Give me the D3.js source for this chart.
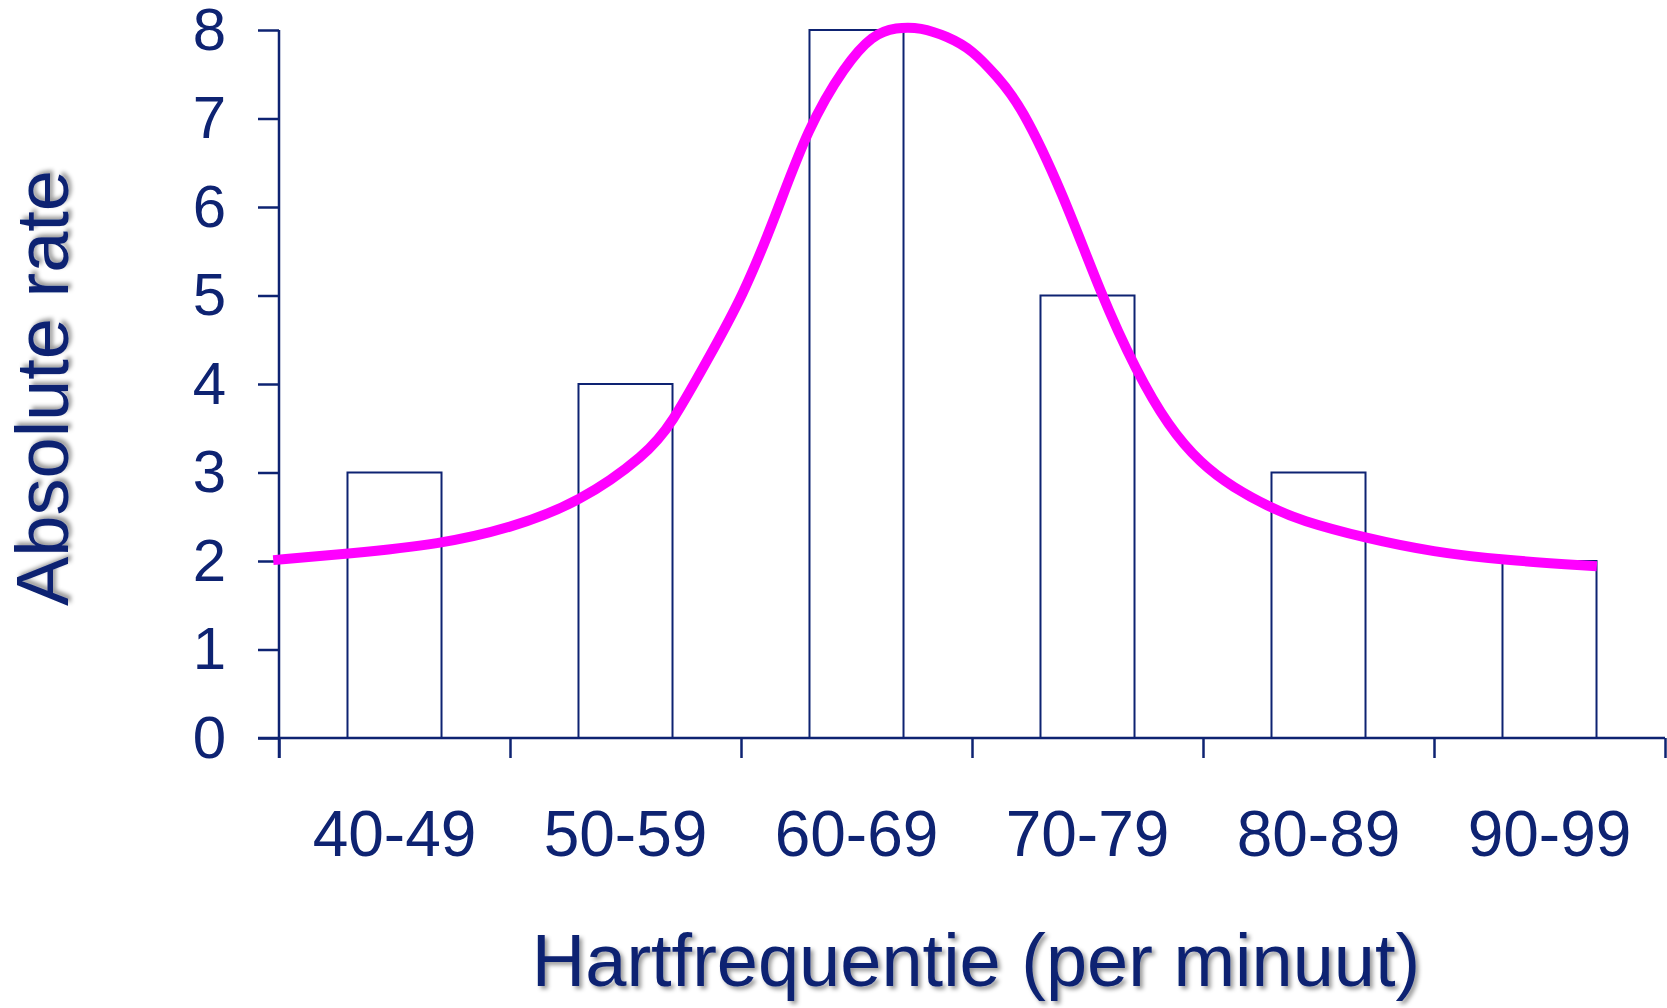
<!DOCTYPE html>
<html>
<head>
<meta charset="utf-8">
<script src="https://d3js.org/d3.v7.min.js"></script>
<style>
  body { margin: 0; background: white; }
  svg { display: block; }
</style>
</head>
<body>
<div id="chart"></div>
<script>

// categories (bpm classes) and counts per class
var categories = ["40-49", "50-59", "60-69", "70-79", "80-89", "90-99"];
var counts = [3, 4, 8, 5, 3, 2];

// class boundaries on the x axis
var class_edges = [40, 50, 60, 70, 80, 90, 100];

// y axis tick values
var y_ticks = [0, 1, 2, 3, 4, 5, 6, 7, 8];

// smoothed curve drawn over the histogram (bpm, rate)
var curve_bpm  = [39.75, 43, 47, 50, 53, 55.9, 57.0, 58.5, 60.1, 61.5, 62.9, 64.5, 65.7, 66.7, 67.8, 68.9, 70.0, 71.1, 72.1, 73.9, 75.6, 77.1, 78.5, 79.9, 81.3, 82.95, 84.2, 87, 90, 93, 97.05];
var curve_rate = [2.01, 2.08, 2.19, 2.37, 2.66, 3.2, 3.55, 4.25, 5.0, 5.9, 6.9, 7.6, 7.95, 8.03, 8.03, 7.93, 7.78, 7.47, 7.16, 6.18, 5.0, 4.15, 3.52, 3.1, 2.83, 2.6, 2.46, 2.26, 2.1, 2.01, 1.94];

var x_title = "Hartfrequentie (per minuut)";
var y_title = "Absolute rate";

// page size
var w = 1667;
var h = 1008;

// plot area
var left = 279, right = 1665, top_y = 30, bottom_y = 738;
var navy = "#0e2372";
var font = "'Liberation Sans', Arial, Helvetica, sans-serif";

var svg = d3.select("#chart").append("svg")
    .attr("width", w)
    .attr("height", h);

svg.append("rect").attr("x", 0).attr("y", 0).attr("width", w).attr("height", h).style("fill", "white");

// soft grey shadow for the axis titles
var shadow = svg.append("defs").append("filter").attr("id", "shadow")
    .attr("x", "-10%").attr("y", "-10%").attr("width", "130%").attr("height", "130%");
shadow.append("feDropShadow")
    .attr("dx", 3).attr("dy", 3).attr("stdDeviation", 2.2)
    .attr("flood-color", "#000").attr("flood-opacity", 0.4);

// scales
var x = d3.scaleLinear().domain([40, 100]).range([left, right]);
var band = d3.scaleBand().domain(categories).range([left, right])
    .paddingInner(0.593).paddingOuter(0.593 / 2);
var y = d3.scaleLinear().domain([0, 8]).range([bottom_y, top_y]);

// histogram bars (outline only)
svg.selectAll("rect.bar").data(counts).enter().append("rect")
    .attr("class", "bar")
    .attr("x", function(d, i) { return band(categories[i]); })
    .attr("y", function(d) { return y(d); })
    .attr("width", band.bandwidth())
    .attr("height", function(d) { return y(0) - y(d); })
    .style("fill", "none")
    .style("stroke", navy)
    .style("stroke-width", 2);

// y axis - ticks to the left, labels right aligned
var yAxis = svg.append("g")
    .attr("transform", "translate(" + left + ",0)")
    .call(d3.axisLeft(y).tickValues(y_ticks).tickSize(21).tickPadding(32).tickSizeOuter(0));
yAxis.select(".domain").remove();
yAxis.selectAll("line").style("stroke", navy).style("stroke-width", 2.5);
yAxis.selectAll("text")
    .style("font-family", font).style("font-size", "60px").style("fill", navy);

// y axis line runs from top tick down to the bottom of the x ticks
svg.append("line")
    .attr("x1", left).attr("x2", left)
    .attr("y1", y(8)).attr("y2", bottom_y + 20)
    .style("stroke", navy).style("stroke-width", 2.5);

// x axis - ticks at class boundaries, pointing down
var xAxis = svg.append("g")
    .attr("transform", "translate(0," + bottom_y + ")")
    .call(d3.axisBottom(x).tickValues(class_edges).tickSize(20).tickFormat(""));
xAxis.select(".domain").remove();
xAxis.selectAll("line").style("stroke", navy).style("stroke-width", 2.5);

svg.append("line")
    .attr("x1", left - 21).attr("x2", right)
    .attr("y1", bottom_y).attr("y2", bottom_y)
    .style("stroke", navy).style("stroke-width", 2.5);

// class labels centred under each bar
svg.selectAll("text.cat").data(categories).enter().append("text")
    .attr("class", "cat")
    .attr("x", function(d) { return band(d) + band.bandwidth() / 2; })
    .attr("y", 856)
    .attr("text-anchor", "middle")
    .style("font-family", font).style("font-size", "64px").style("fill", navy)
    .text(function(d) { return d; });

// magenta curve - b-spline through the read points keeps it smooth
var line = d3.line()
    .x(function(d, i) { return x(curve_bpm[i]); })
    .y(function(d) { return y(d); })
    .curve(d3.curveBasis);

svg.append("path")
    .datum(curve_rate)
    .attr("d", line)
    .style("fill", "none")
    .style("stroke", "#ff00ff")
    .style("stroke-width", 10)
    .style("stroke-linejoin", "round");

// axis titles
svg.append("text")
    .attr("x", 976).attr("y", 986)
    .attr("text-anchor", "middle")
    .attr("filter", "url(#shadow)")
    .style("font-family", font).style("font-size", "74px").style("fill", navy)
    .text(x_title);

svg.append("text")
    .attr("transform", "translate(68,388) rotate(-90)")
    .attr("text-anchor", "middle")
    .attr("filter", "url(#shadow)")
    .style("font-family", font).style("font-size", "74px").style("fill", navy)
    .text(y_title);

</script>
</body>
</html>
